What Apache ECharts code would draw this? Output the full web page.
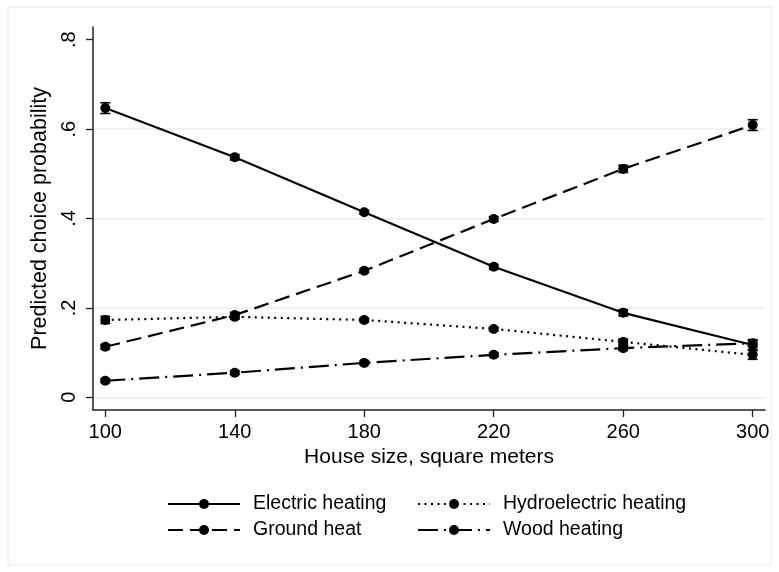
<!DOCTYPE html>
<html>
<head>
<meta charset="utf-8">
<script src="https://cdn.jsdelivr.net/npm/echarts@6/dist/echarts.min.js"></script>
<style>
  html, body { margin: 0; padding: 0; background: #ffffff; }
  #chart { width: 779px; height: 572px; }
</style>
</head>
<body>
<div id="chart"></div>
<script>
// House sizes (square meters) at which choice probabilities are predicted
const houseSizes = [100, 140, 180, 220, 260, 300];

// Predicted probabilities per heating system
const electricHeating = [0.647, 0.537, 0.414, 0.292, 0.189, 0.117];
const groundHeat      = [0.113, 0.184, 0.283, 0.399, 0.511, 0.609];
const hydroHeating    = [0.173, 0.180, 0.173, 0.153, 0.124, 0.095];
const woodHeating     = [0.037, 0.055, 0.077, 0.095, 0.110, 0.121];

// Half-widths of the confidence intervals
const electricCI = [0.012, 0.006, 0.004, 0.005, 0.007, 0.010];
const groundCI   = [0.005, 0.006, 0.004, 0.005, 0.008, 0.012];
const hydroCI    = [0.008, 0.005, 0.004, 0.004, 0.006, 0.010];
const woodCI     = [0.004, 0.004, 0.004, 0.004, 0.005, 0.008];

// Axis tick values and labels
const xTicks = [100, 140, 180, 220, 260, 300];
const yTicks = [0, 0.2, 0.4, 0.6, 0.8];
const yGridTicks = [0, 0.2, 0.4, 0.6];
const yTickLabels = { 0: '0', 0.2: '.2', 0.4: '.4', 0.6: '.6', 0.8: '.8' };

const FONT = '"Liberation Sans", Arial, sans-serif';

const pairs = (ys) => houseSizes.map((x, i) => [x, ys[i]]);
const ciRows = (ys, hw) => houseSizes.map((x, i) => [x, ys[i] - hw[i], ys[i] + hw[i]]);

function lineSeries(name, values, dash) {
  return {
    name: name,
    type: 'line',
    data: pairs(values),
    symbol: 'circle',
    symbolSize: 10,
    showSymbol: true,
    itemStyle: { color: '#000000' },
    lineStyle: { color: '#000000', width: 2.2, type: dash },
    emphasis: { disabled: true },
    z: 3
  };
}

function capSeries(values, hw) {
  return {
    type: 'custom',
    data: ciRows(values, hw),
    encode: { x: 0, y: [1, 2] },
    z: 4,
    silent: true,
    renderItem: function (params, api) {
      const x = api.value(0);
      const top = api.coord([x, api.value(2)]);
      const bot = api.coord([x, api.value(1)]);
      const w = 5;
      const st = { stroke: '#000000', lineWidth: 1.6 };
      return {
        type: 'group',
        children: [
          { type: 'line', shape: { x1: top[0], y1: top[1], x2: bot[0], y2: bot[1] }, style: st },
          { type: 'line', shape: { x1: top[0] - w, y1: top[1], x2: top[0] + w, y2: top[1] }, style: st },
          { type: 'line', shape: { x1: bot[0] - w, y1: bot[1], x2: bot[0] + w, y2: bot[1] }, style: st }
        ]
      };
    }
  };
}

function legendItem(name, left, top) {
  return {
    data: [name],
    left: left,
    top: top,
    padding: 0,
    itemWidth: 72,
    itemHeight: 12.5,
    selectedMode: false,
    textStyle: {
      fontFamily: FONT, fontSize: 19.5, lineHeight: 20, color: '#000000',
      padding: [0, 0, 0, 8]
    }
  };
}

const chart = echarts.init(document.getElementById('chart'), null, { renderer: 'canvas' });

chart.setOption({
  backgroundColor: '#ffffff',
  animation: false,
  graphic: [{
    type: 'rect',
    shape: { x: 8, y: 7, width: 763, height: 558 },
    style: { fill: 'none', stroke: '#e4ecee', lineWidth: 1 },
    silent: true,
    z: -10
  }],
  grid: { left: 93, right: 14, top: 27, bottom: 162, containLabel: false },
  xAxis: {
    type: 'value',
    min: 96.2,
    max: 303.8,
    name: 'House size, square meters',
    nameLocation: 'middle',
    nameGap: 34,
    nameTextStyle: { fontFamily: FONT, fontSize: 21, color: '#000000' },
    axisLine: { show: true, onZero: false, lineStyle: { color: '#222222', width: 1.5 } },
    axisTick: { show: true, length: 7, customValues: xTicks, lineStyle: { color: '#222222', width: 1.3 } },
    axisLabel: { customValues: xTicks, margin: 12, fontFamily: FONT, fontSize: 20, color: '#000000' },
    splitLine: { show: false }
  },
  yAxis: [{
    type: 'value',
    min: -0.0284,
    max: 0.8284,
    name: 'Predicted choice probability',
    nameLocation: 'middle',
    nameGap: 36,
    nameTextStyle: { fontFamily: FONT, fontSize: 21.5, color: '#000000' },
    axisLine: { show: true, onZero: false, lineStyle: { color: '#222222', width: 1.5 } },
    axisTick: { show: true, length: 7, customValues: yTicks, lineStyle: { color: '#222222', width: 1.3 } },
    axisLabel: {
      customValues: yTicks,
      rotate: 90,
      margin: 14,
      fontFamily: FONT,
      fontSize: 20,
      color: '#000000',
      formatter: (v) => yTickLabels[Math.round(v * 10) / 10] ?? String(v)
    },
    splitLine: { show: false }
  }, {
    type: 'value',
    min: -0.0284,
    max: 0.8284,
    axisLine: { show: false },
    axisTick: { show: false, customValues: yGridTicks },
    axisLabel: { show: false, customValues: yGridTicks },
    splitLine: { show: true, lineStyle: { color: '#e6eff1', width: 1.5 } }
  }],
  legend: [
    legendItem('Electric heating', 167, 494),
    legendItem('Hydroelectric heating', 417, 494),
    legendItem('Ground heat', 167, 520),
    legendItem('Wood heating', 417, 520)
  ],
  series: [
    lineSeries('Electric heating', electricHeating, 'solid'),
    lineSeries('Hydroelectric heating', hydroHeating, [2, 4.5]),
    lineSeries('Ground heat', groundHeat, [15, 7]),
    lineSeries('Wood heating', woodHeating, [20, 6, 2, 6]),
    capSeries(electricHeating, electricCI),
    capSeries(hydroHeating, hydroCI),
    capSeries(groundHeat, groundCI),
    capSeries(woodHeating, woodCI)
  ]
});
</script>
</body>
</html>
